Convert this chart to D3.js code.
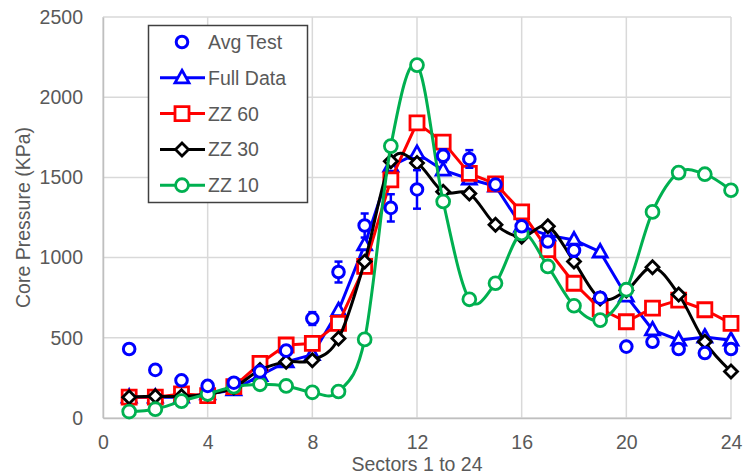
<!DOCTYPE html>
<html>
<head>
<meta charset="utf-8">
<script src="https://cdn.jsdelivr.net/npm/d3@7/dist/d3.min.js"></script>
<style>
  html, body { margin: 0; padding: 0; background: #ffffff; }
  svg { display: block; font-family: "Liberation Sans", Arial, sans-serif; }
</style>
</head>
<body>
<svg id="chart" width="744" height="476"></svg>
<script>
// Sector numbers along the horizontal axis
const sectors = d3.range(1, 25);

// Core pressure (KPa) per sector
const avgTest  = [430, 300, 235, 200, 220, 290, 420, 620, 910, 1200, 1310, 1425, 1635, 1615, 1455, 1195, 1100, 1045, 750, 445, 475, 430, 405, 430];
const avgError = [25, 15, 15, 15, 15, 20, 30, 40, 65, 75, 85, 120, 40, 55, 30, 30, 30, 40, 30, 20, 30, 30, 30, 20];
const fullData = [130, 130, 130, 150, 175, 265, 350, 395, 670, 1080, 1570, 1650, 1545, 1490, 1445, 1195, 1140, 1110, 1035, 760, 550, 485, 505, 485];
const zz60     = [130, 130, 150, 140, 195, 340, 455, 465, 590, 945, 1485, 1840, 1720, 1525, 1460, 1285, 1050, 840, 680, 600, 685, 735, 675, 590];
const zz30     = [130, 135, 135, 150, 190, 300, 350, 360, 495, 975, 1600, 1590, 1410, 1400, 1205, 1130, 1195, 975, 745, 795, 940, 770, 475, 290];
const zz10     = [40, 55, 105, 150, 195, 210, 200, 160, 165, 490, 1695, 2200, 1350, 740, 840, 1150, 945, 700, 610, 800, 1285, 1530, 1520, 1420];

// Axis ticks
const xTicks = [0, 4, 8, 12, 16, 20, 24];
const yTicks = [0, 500, 1000, 1500, 2000, 2500];

const svg = d3.select("#chart");
const margin = { left: 103, top: 17, right: 13, bottom: 58 };
const W = 744, H = 476;
const x = d3.scaleLinear().domain([0, 24]).range([margin.left, W - margin.right]);
const y = d3.scaleLinear().domain([0, 2500]).range([H - margin.bottom, margin.top]);

const textGray = "#595959";
const gridGray = "#d9d9d9";
const fontSize = 19.5;

// Gridlines
const grid = svg.append("g");
grid.selectAll("line.h").data(yTicks).join("line")
  .attr("x1", x(0)).attr("x2", x(24))
  .attr("y1", d => y(d)).attr("y2", d => y(d))
  .attr("stroke", gridGray).attr("stroke-width", 1.5);
grid.selectAll("line.v").data(xTicks).join("line")
  .attr("x1", d => x(d)).attr("x2", d => x(d))
  .attr("y1", y(0)).attr("y2", y(2500))
  .attr("stroke", gridGray).attr("stroke-width", 1.5);

// Axes (labels only; the grid provides the lines)
const xAxis = svg.append("g")
  .attr("transform", `translate(0,${y(0)})`)
  .call(d3.axisBottom(x).tickValues(xTicks).tickSize(0).tickPadding(17).tickFormat(d3.format("d")));
const yAxis = svg.append("g")
  .attr("transform", `translate(${x(0)},0)`)
  .call(d3.axisLeft(y).tickValues(yTicks).tickSize(0).tickPadding(20).tickFormat(d3.format("d")));
[xAxis, yAxis].forEach(g => {
  g.select(".domain").attr("stroke", "#bfbfbf").attr("stroke-width", 1.5);
  g.selectAll("text").attr("fill", textGray).attr("font-size", fontSize)
    .attr("font-family", "'Liberation Sans', Arial, sans-serif");
});

// Axis titles
svg.append("text")
  .attr("x", (x(0) + x(24)) / 2).attr("y", 471)
  .attr("text-anchor", "middle").attr("fill", textGray).attr("font-size", fontSize)
  .text("Sectors 1 to 24");
svg.append("text")
  .attr("transform", `translate(30,${(y(0) + y(2500)) / 2}) rotate(-90)`)
  .attr("text-anchor", "middle").attr("fill", textGray).attr("font-size", fontSize)
  .text("Core Pressure (KPa)");

// Series definitions
const lineSeries = [
  { name: "Full Data", values: fullData, color: "#0000ff", marker: "triangle", smooth: false },
  { name: "ZZ 60", values: zz60, color: "#ff0000", marker: "square", smooth: false },
  { name: "ZZ 30", values: zz30, color: "#000000", marker: "diamond", smooth: true },
  { name: "ZZ 10", values: zz10, color: "#00b050", marker: "circle", smooth: true }
];

function markerPath(type) {
  switch (type) {
    case "triangle": return "M0,-7.5L7,5L-7,5Z";
    case "square":   return "M-7,-7H7V7H-7Z";
    case "diamond":  return "M0,-6.5L6.5,0L0,6.5L-6.5,0Z";
    default:         return d3.symbol(d3.symbolCircle, 130)();
  }
}

const plot = svg.append("g");

lineSeries.forEach(s => {
  const pts = sectors.map((sec, i) => [sec, s.values[i]]);
  const line = d3.line()
    .x(d => x(d[0])).y(d => y(d[1]))
    .curve(s.smooth ? d3.curveCatmullRom.alpha(0) : d3.curveLinear);
  const g = plot.append("g");
  g.append("path").attr("d", line(pts))
    .attr("fill", "none").attr("stroke", s.color).attr("stroke-width", 3)
    .attr("stroke-linejoin", "round");
  g.selectAll("path.m").data(pts).join("path")
    .attr("class", "m")
    .attr("transform", d => `translate(${x(d[0])},${y(d[1])})`)
    .attr("d", markerPath(s.marker))
    .attr("fill", "#ffffff").attr("stroke", s.color).attr("stroke-width", 2.8);
});

// Average test points with error bars
const avgPts = sectors.map((sec, i) => ({ sec, v: avgTest[i], e: avgError[i] }));
const eb = plot.append("g").attr("stroke", "#0000ff").attr("stroke-width", 2.5);
avgPts.forEach(d => {
  const cx = x(d.sec);
  eb.append("line").attr("x1", cx).attr("x2", cx).attr("y1", y(d.v - d.e)).attr("y2", y(d.v + d.e));
  eb.append("line").attr("x1", cx - 4).attr("x2", cx + 4).attr("y1", y(d.v - d.e)).attr("y2", y(d.v - d.e));
  eb.append("line").attr("x1", cx - 4).attr("x2", cx + 4).attr("y1", y(d.v + d.e)).attr("y2", y(d.v + d.e));
});
plot.append("g").selectAll("circle").data(avgPts).join("circle")
  .attr("cx", d => x(d.sec)).attr("cy", d => y(d.v)).attr("r", 5.8)
  .attr("fill", "#ffffff").attr("stroke", "#0000ff").attr("stroke-width", 3);

// Legend
const legendItems = [
  { name: "Avg Test", color: "#0000ff", marker: "circle", line: false },
  ...lineSeries.map(s => ({ name: s.name, color: s.color, marker: s.marker, line: true }))
];
const legend = svg.append("g");
legend.append("rect")
  .attr("x", 148.5).attr("y", 25.5).attr("width", 159).attr("height", 177)
  .attr("fill", "#ffffff").attr("stroke", "#404040").attr("stroke-width", 1.5);
legendItems.forEach((it, i) => {
  const cy = 42 + i * 35.8;
  const g = legend.append("g");
  if (it.line) {
    g.append("line").attr("x1", 160).attr("x2", 205).attr("y1", cy).attr("y2", cy)
      .attr("stroke", it.color).attr("stroke-width", 3);
  }
  if (it.marker === "circle" && !it.line) {
    g.append("circle").attr("cx", 182).attr("cy", cy).attr("r", 5.8)
      .attr("fill", "#ffffff").attr("stroke", it.color).attr("stroke-width", 3);
  } else {
    g.append("path").attr("transform", `translate(182,${cy})`).attr("d", markerPath(it.marker))
      .attr("fill", "#ffffff").attr("stroke", it.color).attr("stroke-width", 2.8);
  }
  g.append("text").attr("x", 208).attr("y", cy + 7)
    .attr("fill", textGray).attr("font-size", fontSize).text(it.name);
});
</script>
</body>
</html>
